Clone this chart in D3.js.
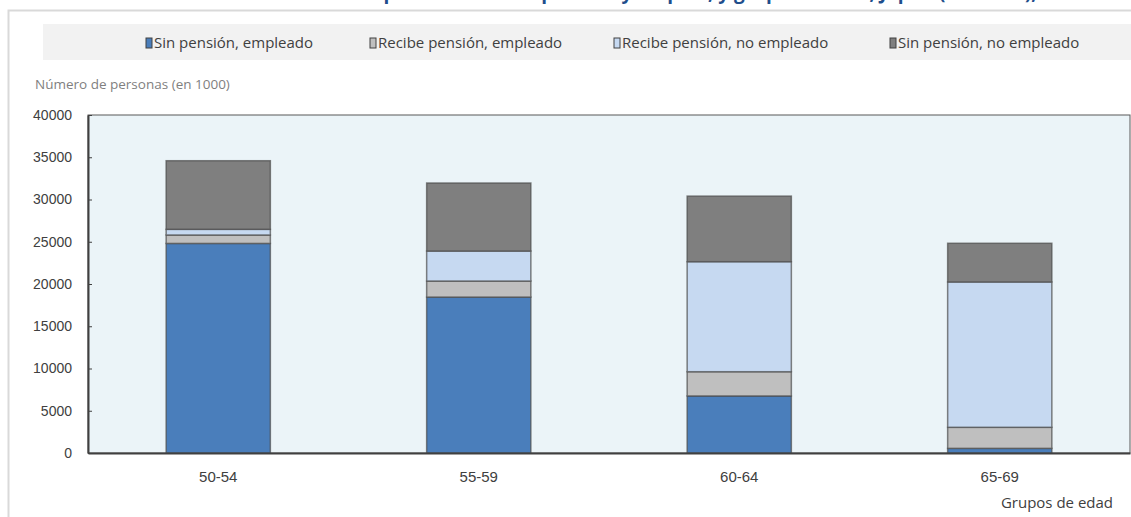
<!DOCTYPE html>
<html>
<head>
<meta charset="utf-8">
<script src="https://cdn.jsdelivr.net/npm/d3@7"></script>
<style>
  body { margin: 0; background: #fff; }
  svg { display: block; font-family: "Open Sans", sans-serif; }
</style>
</head>
<body>
<div id="chart"></div>
<script>
// age groups
const groups = ["50-54", "55-59", "60-64", "65-69"];

// series, bottom to top (en 1000 personas)
const seriesNames = ["Sin pensión, empleado", "Recibe pensión, empleado", "Recibe pensión, no empleado", "Sin pensión, no empleado"];
const sinPensionEmpleado = [24800, 18450, 6750, 550];
const recibePensionEmpleado = [1000, 1900, 2870, 2490];
const recibePensionNoEmpleado = [670, 3550, 13020, 17200];
const sinPensionNoEmpleado = [8120, 8050, 7760, 4580];

const yTicks = [0, 5000, 10000, 15000, 20000, 25000, 30000, 35000, 40000];

const colors = ["#4a7ebb", "#bfbfbf", "#c6d9f1", "#7f7f7f"];

// layout constants
const w = 1131;
const h = 517;
const plot = { left: 88, right: 1130, top: 115, bottom: 453 };

const rows = groups.map((g, i) => ({
  group: g,
  s0: sinPensionEmpleado[i],
  s1: recibePensionEmpleado[i],
  s2: recibePensionNoEmpleado[i],
  s3: sinPensionNoEmpleado[i]
}));
const stacked = d3.stack().keys(["s0", "s1", "s2", "s3"])(rows);

const xScale = d3.scaleBand()
  .domain(groups)
  .range([plot.left, plot.right])
  .paddingInner(0.6)
  .paddingOuter(0.3);

const yScale = d3.scaleLinear()
  .domain([0, 40000])
  .range([plot.bottom, plot.top]);

const svg = d3.select("#chart").append("svg")
  .attr("width", w)
  .attr("height", h);

// title, cut at the top of the picture as in the source
svg.append("text")
  .attr("x", w / 2 + 120)
  .attr("y", -1)
  .attr("text-anchor", "middle")
  .attr("fill", "#1f4e8c")
  .style("font-weight", "bold")
  .style("font-size", "19px")
  .text("Población por situación de pensión y empleo, y grupo de edad, Japón (en miles), 2010");

// outer frame
svg.append("path")
  .attr("d", `M8.5,${h} V10.5 H${w}`)
  .attr("fill", "none")
  .attr("stroke", "#d9d9d9")
  .attr("stroke-width", 2);

// legend box
svg.append("rect")
  .attr("x", 43)
  .attr("y", 24)
  .attr("width", w - 43)
  .attr("height", 36)
  .attr("fill", "#f2f2f2");

const legendX = [146, 370, 614, 890];
const legend = svg.selectAll("g.legend")
  .data(seriesNames)
  .enter()
  .append("g")
  .attr("class", "legend")
  .attr("transform", (d, i) => `translate(${legendX[i]},43)`);

legend.append("rect")
  .attr("x", 0)
  .attr("y", -5)
  .attr("width", 6)
  .attr("height", 10)
  .attr("fill", (d, i) => colors[i])
  .attr("stroke", "#404040")
  .attr("stroke-width", 1);

legend.append("text")
  .attr("x", 8)
  .attr("y", 5)
  .attr("fill", "#404040")
  .style("font-size", "15px")
  .text(d => d);

// y axis title
svg.append("text")
  .attr("x", 35)
  .attr("y", 89)
  .attr("fill", "#7f7f7f")
  .style("font-size", "13.5px")
  .text("Número de personas (en 1000)");

// plot background
svg.append("rect")
  .attr("x", plot.left)
  .attr("y", plot.top)
  .attr("width", plot.right - plot.left)
  .attr("height", plot.bottom - plot.top)
  .attr("fill", "#ebf4f8")
  .attr("stroke", "#595959")
  .attr("stroke-width", 1);

// stacked bars
svg.selectAll("g.series")
  .data(stacked)
  .enter()
  .append("g")
  .attr("class", "series")
  .attr("fill", (d, i) => colors[i])
  .selectAll("rect")
  .data(d => d)
  .enter()
  .append("rect")
  .attr("x", d => xScale(d.data.group))
  .attr("y", d => yScale(d[1]))
  .attr("width", xScale.bandwidth())
  .attr("height", d => yScale(d[0]) - yScale(d[1]))
  .attr("stroke", "#4d4d4d")
  .attr("stroke-opacity", 0.7)
  .attr("stroke-width", 1.5);

// y axis
const yAxis = svg.append("g")
  .attr("transform", `translate(${plot.left},0)`)
  .call(d3.axisLeft(yScale).tickValues(yTicks).tickFormat(d3.format("d")).tickSize(-4).tickPadding(16).tickSizeOuter(0));
yAxis.select(".domain").attr("stroke", "#404040").attr("stroke-width", 2);
yAxis.selectAll(".tick line").attr("stroke", "#404040");
yAxis.selectAll(".tick text")
  .attr("fill", "#404040")
  .style("font-size", "14px");

// x axis
const xAxis = svg.append("g")
  .attr("transform", `translate(0,${plot.bottom})`)
  .call(d3.axisBottom(xScale).tickSize(0).tickPadding(18));
xAxis.select(".domain").attr("stroke", "#404040").attr("stroke-width", 2);
xAxis.selectAll(".tick text")
  .attr("fill", "#404040")
  .style("font-size", "15px");

// x axis title
svg.append("text")
  .attr("x", 1113)
  .attr("y", 508)
  .attr("text-anchor", "end")
  .attr("fill", "#404040")
  .style("font-size", "15px")
  .text("Grupos de edad");
</script>
</body>
</html>
